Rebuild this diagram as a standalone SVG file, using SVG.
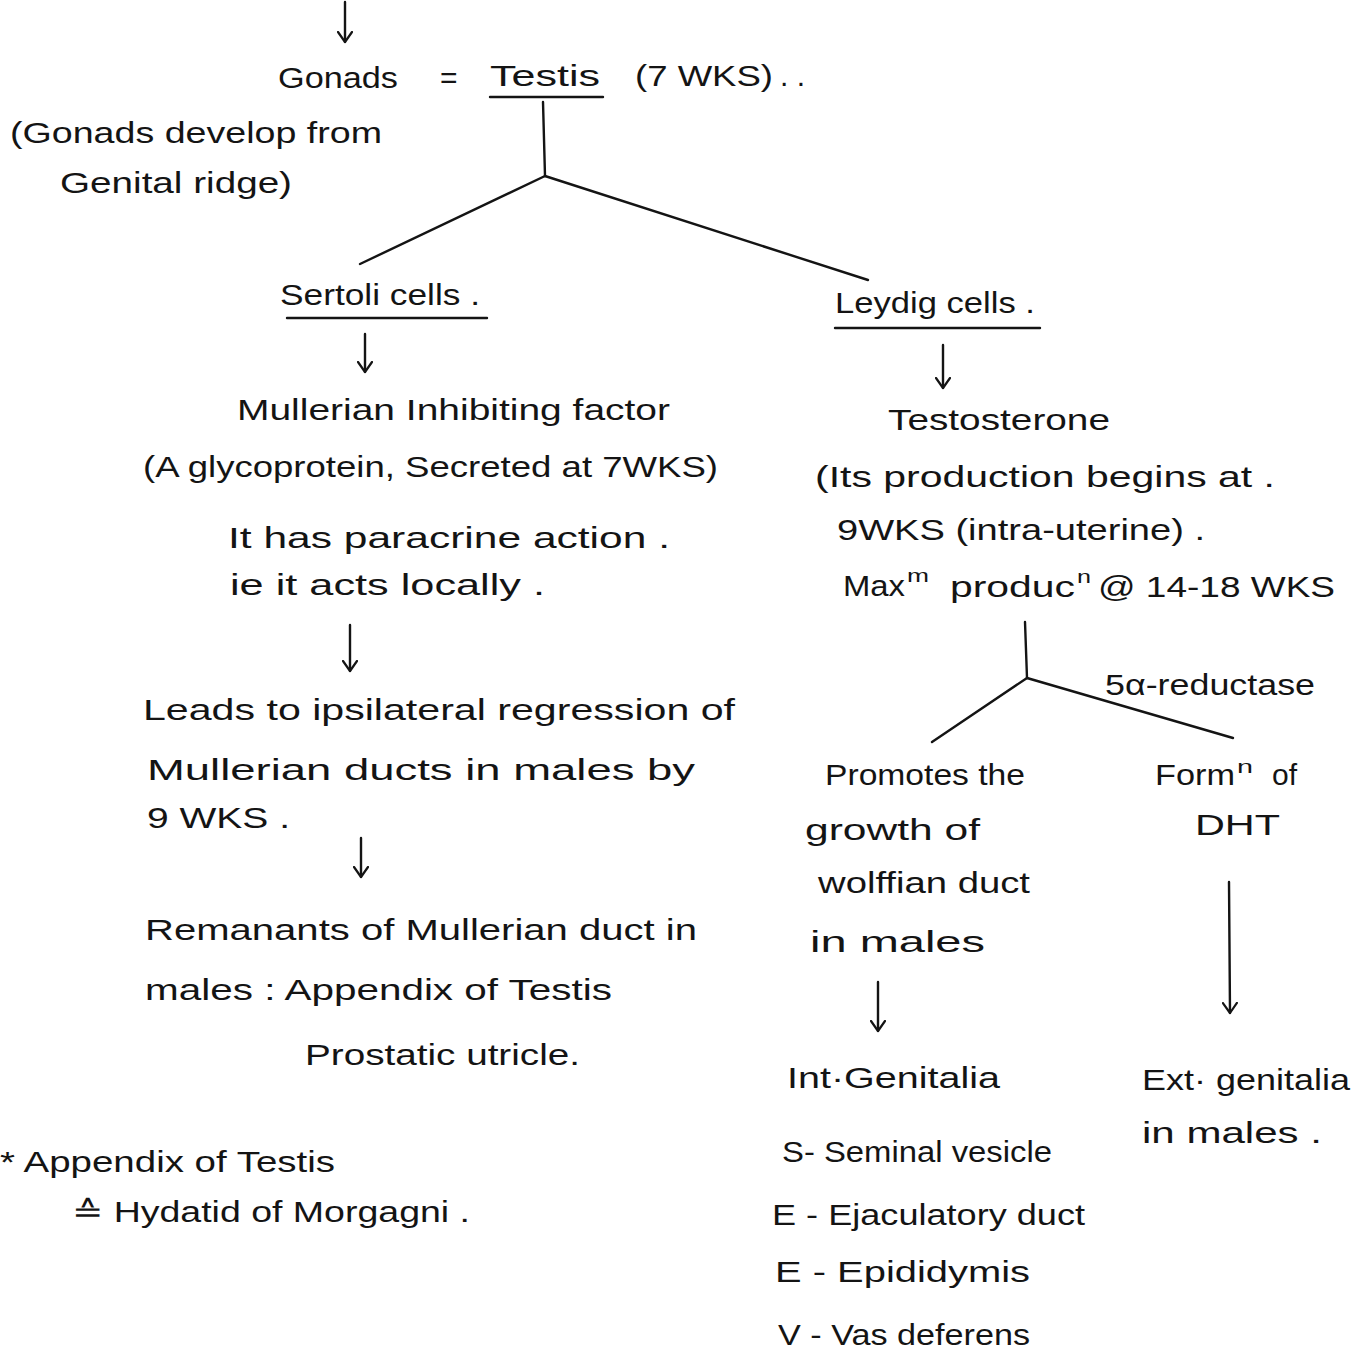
<svg xmlns="http://www.w3.org/2000/svg" width="1363" height="1372" viewBox="0 0 1363 1372">
<defs>
<style>
.t{font-family:"Liberation Sans","Open Sans",sans-serif;font-size:30px;fill:#141414;}
.s{font-family:"Liberation Sans","Open Sans",sans-serif;font-size:19px;fill:#141414;}
.ln{stroke:#141414;stroke-width:2.4;fill:none;stroke-linecap:round;}
.ar{stroke:#141414;stroke-width:2.4;fill:none;stroke-linecap:round;marker-end:url(#ah);}
</style>
<marker id="ah" viewBox="0 0 12 16" refX="11" refY="8" markerWidth="12" markerHeight="16" markerUnits="userSpaceOnUse" orient="auto">
<path d="M1,1 L11,8 L1,15" fill="none" stroke="#141414" stroke-width="2.2" stroke-linecap="round" stroke-linejoin="round"/>
</marker>
</defs>
<rect width="1363" height="1372" fill="#ffffff"/>

<g id="connectors">
<line class="ar" x1="345" y1="2" x2="345" y2="42"/>
<line class="ln" x1="543" y1="102" x2="545" y2="176"/>
<line class="ln" x1="545" y1="176" x2="360" y2="264"/>
<line class="ln" x1="545" y1="176" x2="868" y2="280"/>
<line class="ar" x1="365" y1="334" x2="365" y2="372"/>
<line class="ar" x1="943" y1="345" x2="943" y2="388"/>
<line class="ar" x1="350" y1="625" x2="350" y2="671"/>
<line class="ar" x1="361" y1="838" x2="361" y2="877"/>
<line class="ln" x1="1025" y1="622" x2="1027" y2="678"/>
<line class="ln" x1="1027" y1="678" x2="932" y2="742"/>
<line class="ln" x1="1027" y1="678" x2="1233" y2="738"/>
<line class="ar" x1="878" y1="982" x2="878" y2="1031"/>
<line class="ar" x1="1229" y1="882" x2="1230" y2="1013"/>
</g>

<g id="gonads">
<text class="t" x="278" y="88" textLength="120" lengthAdjust="spacingAndGlyphs">Gonads</text>
<text class="t" x="440" y="88">=</text>
<text class="t" x="490" y="86" textLength="110" lengthAdjust="spacingAndGlyphs">Testis</text>
<line class="ln" x1="490" y1="97" x2="603" y2="97"/>
<text class="t" x="635" y="86" textLength="138" lengthAdjust="spacingAndGlyphs">(7 WKS)</text>
<text class="t" x="780" y="86">. .</text>
</g>

<g id="gonads-note">
<text class="t" x="10" y="143" textLength="372" lengthAdjust="spacingAndGlyphs">(Gonads develop from</text>
<text class="t" x="60" y="193" textLength="232" lengthAdjust="spacingAndGlyphs">Genital ridge)</text>
</g>

<g id="sertoli">
<text class="t" x="280" y="305" textLength="200" lengthAdjust="spacingAndGlyphs">Sertoli cells .</text>
<line class="ln" x1="287" y1="318" x2="487" y2="318"/>
</g>

<g id="leydig">
<text class="t" x="835" y="313" textLength="200" lengthAdjust="spacingAndGlyphs">Leydig cells .</text>
<line class="ln" x1="835" y1="328" x2="1040" y2="328"/>
</g>

<g id="mif">
<text class="t" x="237" y="420" textLength="433" lengthAdjust="spacingAndGlyphs">Mullerian Inhibiting factor</text>
<text class="t" x="143" y="477" textLength="575" lengthAdjust="spacingAndGlyphs">(A glycoprotein, Secreted at 7WKS)</text>
<text class="t" x="228" y="548" textLength="442" lengthAdjust="spacingAndGlyphs">It has paracrine action .</text>
<text class="t" x="230" y="595" textLength="315" lengthAdjust="spacingAndGlyphs">ie it acts locally .</text>
</g>

<g id="testosterone">
<text class="t" x="888" y="430" textLength="222" lengthAdjust="spacingAndGlyphs">Testosterone</text>
<text class="t" x="815" y="487" textLength="460" lengthAdjust="spacingAndGlyphs">(Its production begins at .</text>
<text class="t" x="837" y="540" textLength="368" lengthAdjust="spacingAndGlyphs">9WKS (intra-uterine) .</text>
<text class="t" x="843" y="596" textLength="62" lengthAdjust="spacingAndGlyphs">Max</text>
<text class="s" x="907" y="582" textLength="22" lengthAdjust="spacingAndGlyphs">m</text>
<text class="t" x="950" y="597" textLength="125" lengthAdjust="spacingAndGlyphs">produc</text>
<text class="s" x="1077" y="583" textLength="14" lengthAdjust="spacingAndGlyphs">n</text>
<text class="t" x="1098" y="597" textLength="237" lengthAdjust="spacingAndGlyphs">@ 14-18 WKS</text>
</g>

<g id="regression">
<text class="t" x="143" y="720" textLength="592" lengthAdjust="spacingAndGlyphs">Leads to ipsilateral regression of</text>
<text class="t" x="147" y="780" textLength="548" lengthAdjust="spacingAndGlyphs">Mullerian ducts in males by</text>
<text class="t" x="147" y="828" textLength="143" lengthAdjust="spacingAndGlyphs">9 WKS .</text>
</g>

<g id="remnants">
<text class="t" x="145" y="940" textLength="552" lengthAdjust="spacingAndGlyphs">Remanants of Mullerian duct in</text>
<text class="t" x="145" y="1000" textLength="467" lengthAdjust="spacingAndGlyphs">males : Appendix of Testis</text>
<text class="t" x="305" y="1065" textLength="275" lengthAdjust="spacingAndGlyphs">Prostatic utricle.</text>
</g>

<g id="reductase-label">
<text class="t" x="1105" y="695" textLength="210" lengthAdjust="spacingAndGlyphs">5α-reductase</text>
</g>

<g id="wolffian">
<text class="t" x="825" y="785" textLength="200" lengthAdjust="spacingAndGlyphs">Promotes the</text>
<text class="t" x="805" y="840" textLength="175" lengthAdjust="spacingAndGlyphs">growth of</text>
<text class="t" x="818" y="893" textLength="212" lengthAdjust="spacingAndGlyphs">wolffian duct</text>
<text class="t" x="810" y="952" textLength="175" lengthAdjust="spacingAndGlyphs">in males</text>
</g>

<g id="dht">
<text class="t" x="1155" y="785" textLength="80" lengthAdjust="spacingAndGlyphs">Form</text>
<text class="s" x="1237" y="773" textLength="16" lengthAdjust="spacingAndGlyphs">n</text>
<text class="t" x="1272" y="785">of</text>
<text class="t" x="1195" y="835" textLength="85" lengthAdjust="spacingAndGlyphs">DHT</text>
</g>

<g id="int-genitalia">
<text class="t" x="787" y="1088" textLength="213" lengthAdjust="spacingAndGlyphs">Int·Genitalia</text>
<text class="t" x="782" y="1162" textLength="270" lengthAdjust="spacingAndGlyphs">S- Seminal vesicle</text>
<text class="t" x="772" y="1225" textLength="313" lengthAdjust="spacingAndGlyphs">E - Ejaculatory duct</text>
<text class="t" x="775" y="1282" textLength="255" lengthAdjust="spacingAndGlyphs">E - Epididymis</text>
<text class="t" x="778" y="1345" textLength="252" lengthAdjust="spacingAndGlyphs">V - Vas deferens</text>
</g>

<g id="ext-genitalia">
<text class="t" x="1142" y="1090" textLength="208" lengthAdjust="spacingAndGlyphs">Ext· genitalia</text>
<text class="t" x="1142" y="1143" textLength="180" lengthAdjust="spacingAndGlyphs">in males .</text>
</g>

<g id="appendix-note">
<text class="t" x="0" y="1172" textLength="335" lengthAdjust="spacingAndGlyphs">* Appendix of Testis</text>
<text class="t" x="72" y="1222" textLength="398" lengthAdjust="spacingAndGlyphs">≙ Hydatid of Morgagni .</text>
</g>
</svg>
